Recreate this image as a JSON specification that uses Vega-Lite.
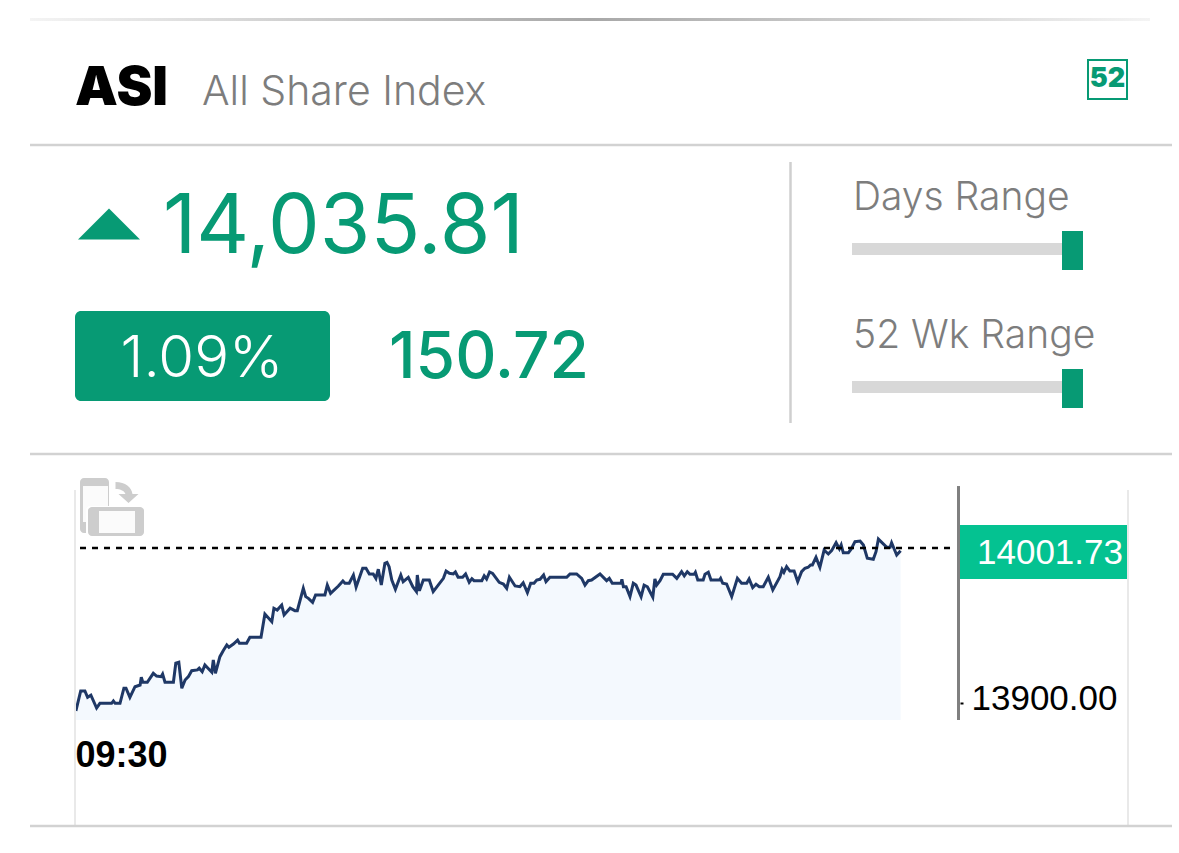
{
  "$schema": "https://vega.github.io/schema/vega-lite/v6.json",
  "width": 1179,
  "height": 853,
  "padding": 0,
  "autosize": {"type": "none"},
  "background": "white",
  "config": {
    "view": {"stroke": null},
    "text": {"font": "Inter"}
  },
  "datasets": {
    "index": [
      {"m":0.3,"v":13894.8},{"m":1.9,"v":13907.9},{"m":3.3,"v":13907.9},{"m":4.2,"v":13903.7},{"m":5.3,"v":13905.1},{"m":7.2,"v":13896.7},{"m":8.3,"v":13899.8},{"m":12.2,"v":13899.8},{"m":12.8,"v":13901.3},{"m":13.4,"v":13899.8},
      {"m":15,"v":13899.8},{"m":16.3,"v":13909.7},{"m":17,"v":13909.7},{"m":18.3,"v":13903.7},{"m":20,"v":13910.7},{"m":21.7,"v":13911.8},{"m":22.1,"v":13916.9},{"m":22.6,"v":13913.6},{"m":24.1,"v":13913.6},{"m":26.1,"v":13919.5},
      {"m":27.2,"v":13917.7},{"m":28.7,"v":13917.3},{"m":29.2,"v":13919},{"m":30,"v":13913.6},{"m":32.8,"v":13913.6},{"m":33.6,"v":13926.1},{"m":34.6,"v":13926.7},{"m":35.6,"v":13909.7},{"m":36.7,"v":13915.1},{"m":37.8,"v":13917.3},
      {"m":38.9,"v":13921.2},{"m":40.8,"v":13921.7},{"m":41.4,"v":13922.8},{"m":42.4,"v":13920.5},{"m":43.3,"v":13924.9},{"m":45.6,"v":13920.2},{"m":46.1,"v":13928.2},{"m":46.8,"v":13919.5},{"m":48.3,"v":13930.4},{"m":49.4,"v":13934.3},
      {"m":50.6,"v":13938.1},{"m":51.3,"v":13936.6},{"m":52.8,"v":13938.7},{"m":54.2,"v":13941.3},{"m":54.8,"v":13939.2},{"m":57.2,"v":13939.2},{"m":58.3,"v":13943.1},{"m":62,"v":13943.1},{"m":63.3,"v":13958.4},{"m":65.6,"v":13953.4},
      {"m":66.3,"v":13962.2},{"m":67.4,"v":13961},{"m":68.9,"v":13964.3},{"m":69.7,"v":13957.8},{"m":71.7,"v":13962.2},{"m":73.3,"v":13960.6},{"m":74.1,"v":13960.6},{"m":76.1,"v":13975.3},{"m":76.9,"v":13969.8},{"m":77.8,"v":13968.7},
      {"m":79.2,"v":13966.1},{"m":80.2,"v":13970.9},{"m":83.3,"v":13970.9},{"m":84.1,"v":13977.4},{"m":85.2,"v":13972},{"m":87.8,"v":13976.8},{"m":89.3,"v":13980.1},{"m":90,"v":13978.6},{"m":91.4,"v":13978.6},{"m":92.8,"v":13984},
      {"m":93.7,"v":13976.1},{"m":95.9,"v":13988.4},{"m":97,"v":13988.4},{"m":98.1,"v":13984.7},{"m":99.4,"v":13984.7},{"m":100.3,"v":13981.8},{"m":101.1,"v":13987.8},{"m":102.1,"v":13977.4},{"m":103.3,"v":13991.7},{"m":104,"v":13992.3},
      {"m":104.7,"v":13989.5},{"m":105.6,"v":13980.7},{"m":106.8,"v":13974.6},{"m":108.6,"v":13984},{"m":109.4,"v":13979.6},{"m":111.1,"v":13982.5},{"m":112.6,"v":13976.3},{"m":113.8,"v":13973.1},{"m":114.1,"v":13984},{"m":114.8,"v":13973.7},
      {"m":116.1,"v":13980.7},{"m":118.1,"v":13980.7},{"m":119.4,"v":13973.1},{"m":122.8,"v":13981.8},{"m":123.7,"v":13986.6},{"m":124.8,"v":13985.1},{"m":126.1,"v":13984.7},{"m":126.8,"v":13986},{"m":127.7,"v":13982.5},{"m":129.2,"v":13982.5},
      {"m":130.2,"v":13984.7},{"m":131.4,"v":13979.2},{"m":132.3,"v":13981.6},{"m":133,"v":13980.3},{"m":135.6,"v":13980.3},{"m":136.4,"v":13983.5},{"m":137.2,"v":13981.4},{"m":138.2,"v":13986},{"m":139.2,"v":13985.1},{"m":141.4,"v":13979.2},
      {"m":142.8,"v":13978.1},{"m":143.9,"v":13975.3},{"m":144.8,"v":13982.5},{"m":146.7,"v":13976.8},{"m":148.3,"v":13976.3},{"m":149.4,"v":13978.9},{"m":150.8,"v":13972.4},{"m":151.9,"v":13978.6},{"m":153,"v":13978.6},{"m":153.9,"v":13980.7},
      {"m":155,"v":13981.2},{"m":156.2,"v":13984},{"m":157,"v":13979.6},{"m":158.3,"v":13982.5},{"m":163.9,"v":13982.5},{"m":165,"v":13984.7},{"m":167.2,"v":13984.7},{"m":168.9,"v":13981.8},{"m":170,"v":13977.4},{"m":171.1,"v":13980.3},
      {"m":172.2,"v":13980.7},{"m":175,"v":13984.7},{"m":177.2,"v":13980.3},{"m":178.1,"v":13981.8},{"m":179.1,"v":13978.6},{"m":182,"v":13978.6},{"m":182.3,"v":13981.2},{"m":182.8,"v":13976.3},{"m":183.7,"v":13976.3},{"m":185,"v":13969.8},
      {"m":186.1,"v":13978.6},{"m":187,"v":13977.4},{"m":188.7,"v":13969.8},{"m":189.7,"v":13977.4},{"m":190.8,"v":13976.3},{"m":192.6,"v":13969.4},{"m":193.3,"v":13981.4},{"m":193.9,"v":13977.4},{"m":195,"v":13980.3},{"m":196.1,"v":13984.5},
      {"m":199.2,"v":13984.5},{"m":200.6,"v":13981.8},{"m":202.2,"v":13986.2},{"m":203.1,"v":13983.5},{"m":204.1,"v":13986.2},{"m":205,"v":13984.5},{"m":206.4,"v":13984.5},{"m":206.8,"v":13985.8},{"m":207.6,"v":13980.7},{"m":209.4,"v":13980.7},
      {"m":210,"v":13984.5},{"m":211.1,"v":13985.8},{"m":212,"v":13980.7},{"m":214.8,"v":13980.7},{"m":215.2,"v":13981.8},{"m":215.9,"v":13978.6},{"m":217.2,"v":13978.1},{"m":218.9,"v":13969.8},{"m":220.8,"v":13981.8},{"m":222.2,"v":13978.6},
      {"m":223.9,"v":13978.6},{"m":224.7,"v":13981.4},{"m":225.9,"v":13975.7},{"m":227,"v":13977.9},{"m":228.1,"v":13976.3},{"m":229.4,"v":13976.3},{"m":231.1,"v":13982.5},{"m":232.6,"v":13974.2},{"m":235,"v":13982.9},{"m":235.7,"v":13987.7},
      {"m":236.3,"v":13985.8},{"m":237.2,"v":13989.5},{"m":238.3,"v":13986.6},{"m":239.7,"v":13986.6},{"m":240.9,"v":13979.6},{"m":242.2,"v":13986.2},{"m":243.3,"v":13988.4},{"m":244.4,"v":13989.1},{"m":245.2,"v":13990.6},{"m":245.8,"v":13990.6},
      {"m":247,"v":13995.6},{"m":248.3,"v":13989.1},{"m":249.7,"v":14000.4},{"m":251.1,"v":13997.8},{"m":252.2,"v":14000},{"m":253.7,"v":14005.2},{"m":254.8,"v":14001.1},{"m":255.4,"v":14003.7},{"m":256.1,"v":13998.6},{"m":257.8,"v":13998.6},
      {"m":258.7,"v":14000.9},{"m":260,"v":14005.9},{"m":261.7,"v":14006.3},{"m":262.8,"v":14003.7},{"m":264.1,"v":13995},{"m":266.1,"v":13994.3},{"m":267,"v":13999.3},{"m":267.8,"v":14007.6},{"m":270.6,"v":14002.2},{"m":271.7,"v":14002.2},
      {"m":272.2,"v":14005.2},{"m":273.9,"v":13997.1},{"m":275.2,"v":14000}
    ],
    "one": [{"n":1}]
  },
  "data": {"name": "one"},
  "layer": [
    {
      "data": {"name": "index"},
      "mark": {"type": "area", "color": "#f4f9fe"},
      "encoding": {
        "x": {
          "field": "m", "type": "quantitative", "title": null,
          "scale": {"domain": [-25, 368], "nice": false, "zero": false},
          "axis": {
            "orient": "bottom", "offset": -115, "values": [0], "grid": false, "domain": false, "ticks": false, "zindex": 1,
            "labelExpr": "timeFormat(datetime(2020,0,1,9,30+datum.value),'%H:%M')",
            "labelFont": "Liberation Sans", "labelFontSize": 36, "labelFontWeight": "bold", "labelColor": "black",
            "labelAlign": "left", "labelBaseline": "top", "labelPadding": 0, "labelFlush": false
          }
        },
        "y": {
          "field": "v", "type": "quantitative", "title": null,
          "scale": {"domain": [13801.56, 14361.38], "nice": false, "zero": false},
          "axis": {
            "orient": "right", "offset": -219, "values": [13900], "format": ".2f", "grid": false, "domain": false, "zindex": 1,
            "tickColor": "black", "tickSize": 3, "tickWidth": 2,
            "labelFont": "Liberation Sans", "labelFontSize": 35, "labelColor": "black",
            "labelPadding": 8, "labelOffset": -5
          }
        },
        "y2": {"datum": 13888.84}
      }
    },
    {
      "data": {"name": "index"},
      "mark": {"type": "line", "color": "#1f3866", "strokeWidth": 3, "strokeJoin": "miter"},
      "encoding": {
        "x": {"field": "m", "type": "quantitative"},
        "y": {"field": "v", "type": "quantitative"}
      }
    },
    {
      "mark": {"type": "rule", "color": "black", "strokeWidth": 2.5, "strokeDash": [6, 6]},
      "encoding": {"x": {"datum": 1.67}, "x2": {"datum": 292.33}, "y": {"datum": 14001.73}}
    },
    {
      "mark": {"type": "rect", "color": "#04c291"},
      "encoding": {"x": {"datum": 294.67}, "x2": {"datum": 351}, "y": {"datum": 14016.83}, "y2": {"datum": 13981.38}}
    },
    {
      "mark": {"type": "text", "text": "14001.73", "font": "Liberation Sans", "fontSize": 35, "color": "white", "align": "left", "baseline": "alphabetic"},
      "encoding": {"x": {"datum": 300.67}, "y": {"datum": 13991.2}}
    },
    {
      "mark": {"type": "rule", "color": "#808080", "strokeWidth": 3},
      "encoding": {"x": {"datum": 294.5}, "y": {"datum": 14042.4}, "y2": {"datum": 13888.84}}
    },
    {
      "mark": {"type": "rule", "color": "#e9e9e9", "strokeWidth": 2},
      "encoding": {"x": {"datum": 0}, "y": {"datum": 14039.8}, "y2": {"datum": 13819.96}}
    },
    {
      "mark": {"type": "rule", "color": "#e9e9e9", "strokeWidth": 2},
      "encoding": {"x": {"datum": 351}, "y": {"datum": 14039.8}, "y2": {"datum": 13819.96}}
    },
    {
      "mark": {"type": "rect", "color": {"x1": 0, "y1": 0, "x2": 1, "y2": 0, "gradient": "linear", "stops": [{"offset": 0, "color": "#f4f4f4"}, {"offset": 0.5, "color": "#a8a8a8"}, {"offset": 1, "color": "#f4f4f4"}]}},
      "encoding": {"x": {"datum": -15}, "x2": {"datum": 358.33}, "y": {"datum": 14349.57}, "y2": {"datum": 14347.6}}
    },
    {
      "mark": {"type": "rule", "color": "#d2d2d2", "strokeWidth": 2.5},
      "encoding": {"x": {"datum": -15}, "x2": {"datum": 365.67}, "y": {"datum": 14266.22}}
    },
    {
      "mark": {"type": "rule", "color": "#d2d2d2", "strokeWidth": 2.5},
      "encoding": {"x": {"datum": -15}, "x2": {"datum": 365.67}, "y": {"datum": 14063.43}}
    },
    {
      "mark": {"type": "rule", "color": "#d2d2d2", "strokeWidth": 2.5},
      "encoding": {"x": {"datum": -15}, "x2": {"datum": 365.67}, "y": {"datum": 13819.27}}
    },
    {
      "mark": {"type": "rule", "color": "#cfcfcf", "strokeWidth": 2.5},
      "encoding": {"x": {"datum": 238.5}, "y": {"datum": 14255.06}, "y2": {"datum": 14083.76}}
    },
    {
      "mark": {"type": "text", "text": "ASI", "fontSize": 54, "fontWeight": 900, "color": "black", "align": "left", "baseline": "alphabetic"},
      "encoding": {"x": {"datum": 0}, "y": {"datum": 14292.47}}
    },
    {
      "mark": {"type": "text", "text": "All Share Index", "fontSize": 41, "fontWeight": 300, "color": "#7d7d7d", "align": "left", "baseline": "alphabetic"},
      "encoding": {"x": {"datum": 42.33}, "y": {"datum": 14292.47}}
    },
    {
      "mark": {"type": "rect", "fill": "white", "stroke": "#079a74", "strokeWidth": 2},
      "encoding": {"x": {"datum": 337.67}, "x2": {"datum": 350.67}, "y": {"datum": 14321.96}, "y2": {"datum": 14296.4}}
    },
    {
      "mark": {"type": "text", "text": "52", "fontSize": 27, "fontWeight": 900, "color": "#079a74", "align": "center", "baseline": "middle"},
      "encoding": {"x": {"datum": 344.17}, "y": {"datum": 14309.5}}
    },
    {
      "mark": {"type": "point", "shape": "M-1,0.5L0,-0.5L1,0.5Z", "size": 3844, "filled": true, "opacity": 1, "color": "#079a74"},
      "encoding": {"x": {"datum": 11.33}, "y": {"datum": 14214.37}}
    },
    {
      "mark": {"type": "text", "text": "14,035.81", "fontSize": 82, "fontWeight": 400, "color": "#079a74", "align": "left", "baseline": "alphabetic"},
      "encoding": {"x": {"datum": 29.3}, "y": {"datum": 14195.34}}
    },
    {
      "mark": {"type": "rect", "color": "#079a74", "cornerRadius": 6},
      "encoding": {"x": {"datum": 0}, "x2": {"datum": 85}, "y": {"datum": 14157.27}, "y2": {"datum": 14098.2}}
    },
    {
      "mark": {"type": "text", "text": "1.09%", "fontSize": 58, "fontWeight": 300, "color": "white", "align": "center", "baseline": "alphabetic"},
      "encoding": {"x": {"datum": 42.33}, "y": {"datum": 14113.95}}
    },
    {
      "mark": {"type": "text", "text": "150.72", "fontSize": 64, "fontWeight": 500, "color": "#079a74", "align": "left", "baseline": "alphabetic"},
      "encoding": {"x": {"datum": 104.67}, "y": {"datum": 14113.29}}
    },
    {
      "mark": {"type": "text", "text": "Days Range", "fontSize": 39, "fontWeight": 300, "color": "#7d7d7d", "align": "left", "baseline": "alphabetic"},
      "encoding": {"x": {"datum": 259.33}, "y": {"datum": 14223.56}}
    },
    {
      "mark": {"type": "rect", "color": "#d8d8d8"},
      "encoding": {"x": {"datum": 259}, "x2": {"datum": 329}, "y": {"datum": 14201.9}, "y2": {"datum": 14194.03}}
    },
    {
      "mark": {"type": "rect", "color": "#079a74"},
      "encoding": {"x": {"datum": 329}, "x2": {"datum": 336}, "y": {"datum": 14209.77}, "y2": {"datum": 14184.18}}
    },
    {
      "mark": {"type": "text", "text": "52 Wk Range", "fontSize": 39, "fontWeight": 300, "color": "#7d7d7d", "align": "left", "baseline": "alphabetic"},
      "encoding": {"x": {"datum": 259.33}, "y": {"datum": 14132.99}}
    },
    {
      "mark": {"type": "rect", "color": "#d8d8d8"},
      "encoding": {"x": {"datum": 259}, "x2": {"datum": 329}, "y": {"datum": 14111.33}, "y2": {"datum": 14103.45}}
    },
    {
      "mark": {"type": "rect", "color": "#079a74"},
      "encoding": {"x": {"datum": 329}, "x2": {"datum": 336}, "y": {"datum": 14119.2}, "y2": {"datum": 14093.6}}
    },
    {
      "mark": {"type": "rect", "color": "#cdcdcd", "cornerRadius": 4},
      "encoding": {"x": {"datum": 1.67}, "x2": {"datum": 11.33}, "y": {"datum": 14047.67}, "y2": {"datum": 14011.57}}
    },
    {
      "mark": {"type": "rect", "color": "#fbfbfb"},
      "encoding": {"x": {"datum": 2.67}, "x2": {"datum": 11}, "y": {"datum": 14042.4}, "y2": {"datum": 14018.8}}
    },
    {
      "mark": {"type": "rect", "color": "white", "cornerRadius": 4},
      "encoding": {"x": {"datum": 3.67}, "x2": {"datum": 24.33}, "y": {"datum": 14029.35}, "y2": {"datum": 14008.9}}
    },
    {
      "mark": {"type": "rect", "color": "#cdcdcd", "cornerRadius": 4},
      "encoding": {"x": {"datum": 4.33}, "x2": {"datum": 23}, "y": {"datum": 14028.7}, "y2": {"datum": 14009.6}}
    },
    {
      "mark": {"type": "rect", "color": "#fbfbfb"},
      "encoding": {"x": {"datum": 8}, "x2": {"datum": 20}, "y": {"datum": 14026.0}, "y2": {"datum": 14011.6}}
    },
    {
      "mark": {"type": "point", "shape": "M-0.6,-0.5C-0.1,-0.5 0.2,-0.25 0.25,0.1L0.55,0.1L0.05,0.55L-0.45,0.1L-0.1,0.1C-0.15,-0.05 -0.35,-0.15 -0.6,-0.15Z", "size": 1600, "filled": true, "opacity": 1, "color": "#cdcdcd"},
      "encoding": {"x": {"datum": 17.5}, "y": {"datum": 14038.5}}
    }
  ]
}
